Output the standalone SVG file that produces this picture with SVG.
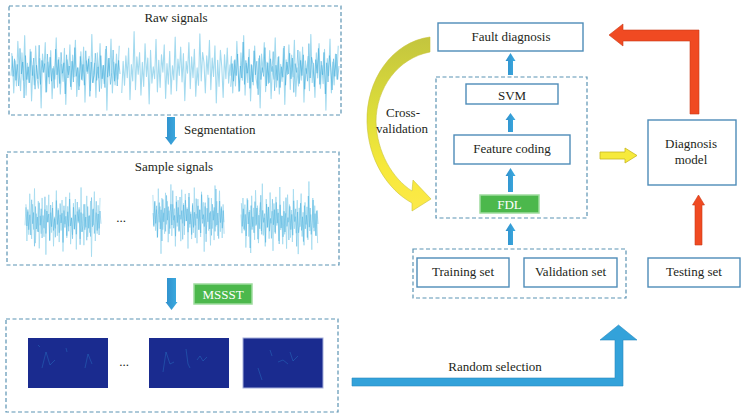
<svg xmlns="http://www.w3.org/2000/svg" xmlns:xlink="http://www.w3.org/1999/xlink" width="750" height="419" viewBox="0 0 750 419">
<style>
text{font-family:"Liberation Serif","Times New Roman",serif;font-size:13px;fill:#231f20}
.dash{fill:none;stroke:#5b93b3;stroke-width:1.2;stroke-dasharray:4 2.5}
.box{fill:#fff;stroke:#4e8cb8;stroke-width:1.4}
.green{fill:#4cb84c;stroke:#9edc9e;stroke-width:1.5}
.gt{fill:#fff;font-size:13px}
.lt{fill:none;stroke:#a3daef;stroke-width:0.8;stroke-linejoin:round}
.dk{fill:none;stroke:#2ba3d9;stroke-width:0.6;stroke-linejoin:round;opacity:0.75}
.barrow{fill:url(#bg)}
.img{fill:#1a2b8f}
.speck{fill:none;stroke:#2f8fd8;stroke-width:0.6;opacity:0.55}
</style>
<defs>
<linearGradient id="bg" x1="0" y1="0" x2="1" y2="0"><stop offset="0" stop-color="#2f8fcc"/><stop offset="1" stop-color="#3cabe0"/></linearGradient>
<linearGradient id="yg" x1="0" y1="0" x2="0" y2="1"><stop offset="0" stop-color="#c3c53e"/><stop offset="0.45" stop-color="#dede3a"/><stop offset="0.75" stop-color="#f7e93a"/><stop offset="1" stop-color="#fce94a"/></linearGradient>
<path id="sig" d="M0,5 1,-12 2,20 3,-8 4,14 5,-25 6,3 7,18 8,-15 9,9 10,-30 11,22 12,-6 13,11 14,-18 15,27 16,-4 17,13 18,-21 19,7 20,16 21,-10 22,33 23,-14 24,2 25,-24 26,19 27,-7 28,12 29,-17 30,25 31,-3 32,8 33,-28 34,15 35,-11 36,21 37,-5 38,10 39,-19 40,30 41,-9 42,4 43,-22 44,17 45,-13 46,6 47,-26 48,23 49,-2 50,14 51,-16 52,9 53,-20 54,28 55,-8 56,3 57,-12 58,18 59,-31 60,11 61,-6 62,24 63,-15 64,7 65,-23 66,16 67,-4 68,12 69,-18 70,35 71,-10 72,5 73,-27 74,20 75,-7 76,13 77,-14 78,8 79,-21"/>
</defs>
<rect width="750" height="419" fill="#fff"/>

<g id="raw-signals">
<rect class="dash" x="9" y="6" width="332" height="109"/>
<text x="176" y="22" text-anchor="middle">Raw signals</text>
<g class="lt">
<use xlink:href="#sig" transform="translate(11,70) scale(1.37,1.15)"/>
<use xlink:href="#sig" transform="translate(230,70) scale(-1.37,-1.1)"/>
<use xlink:href="#sig" transform="translate(230,70) scale(1.37,1.15)"/>
</g>
<g class="dk">
<use xlink:href="#sig" transform="translate(120,70) scale(-1.37,0.8)"/>
<use xlink:href="#sig" transform="translate(339,70) scale(-1.37,-0.8)"/>
</g>
</g>

<g id="sample-signals">
<rect class="dash" x="7" y="152" width="332" height="113"/>
<text x="174" y="171" text-anchor="middle">Sample signals</text>
<g class="lt">
<use xlink:href="#sig" transform="translate(25,220) scale(0.95,1.05)"/>
<use xlink:href="#sig" transform="translate(224,217) scale(-0.9,1.05)"/>
<use xlink:href="#sig" transform="translate(241,220) scale(0.97,-1.1)"/>
</g>
<g class="dk">
<use xlink:href="#sig" transform="translate(101,220) scale(-0.95,0.75)"/>
<use xlink:href="#sig" transform="translate(153,217) scale(0.9,-0.8)"/>
<use xlink:href="#sig" transform="translate(318,220) scale(-0.97,0.8)"/>
</g>
<text x="121" y="222" text-anchor="middle">...</text>
</g>

<g id="mssst">
<rect class="green" x="194" y="284" width="58" height="20"/>
<text class="gt" x="223" y="298.5" text-anchor="middle">MSSST</text>
</g>

<g id="tf-images">
<rect class="dash" x="6" y="319" width="332" height="93"/>
<rect class="img" x="28" y="338" width="80" height="50"/>
<rect class="img" x="149" y="338" width="80" height="50"/>
<rect class="img" x="243" y="338" width="80" height="50" stroke="#a6b0dc" stroke-width="1"/>
<path class="speck" d="M42,368 L46,352 L50,365 L55,360 M85,368 L88,354 L92,364 M66,348 L67,352 M38,345 L40,347"/>
<path class="speck" d="M163,372 L166,352 L170,364 L174,362 M197,360 L200,356 L203,361 L207,357 M186,349 L188,364 L190,368"/>
<path class="speck" d="M270,350 L272,356 M290,352 L293,361 L298,356 M278,362 L283,360 L288,364 M258,368 L262,380"/>
<text x="124" y="366" text-anchor="middle">...</text>
</g>

<g id="fault-diagnosis">
<rect class="box" x="438" y="23" width="145" height="28"/>
<text x="511" y="40.5" text-anchor="middle">Fault diagnosis</text>
</g>

<g id="model-group">
<rect class="dash" x="436" y="77" width="151" height="141"/>
</g>

<g id="svm">
<rect class="box" x="466" y="84" width="92" height="20"/>
<text x="512" y="100" text-anchor="middle">SVM</text>
</g>

<g id="feature-coding">
<rect class="box" x="454" y="135" width="116" height="29"/>
<text x="512" y="153" text-anchor="middle">Feature coding</text>
</g>

<g id="fdl">
<rect class="green" x="480" y="195" width="59" height="18"/>
<text class="gt" x="509.5" y="208.5" text-anchor="middle">FDL</text>
</g>

<g id="data-sets">
<rect class="dash" x="413" y="249" width="213" height="49"/>
</g>

<g id="training-set">
<rect class="box" x="417" y="258" width="92" height="29"/>
<text x="463" y="276" text-anchor="middle">Training set</text>
</g>

<g id="validation-set">
<rect class="box" x="524" y="258" width="93" height="29"/>
<text x="570.5" y="276" text-anchor="middle">Validation set</text>
</g>

<g id="testing-set">
<rect class="box" x="648" y="258" width="92" height="29"/>
<text x="694" y="276" text-anchor="middle">Testing set</text>
</g>

<g id="diagnosis-model">
<rect class="box" x="648" y="120" width="88" height="65"/>
<text x="691" y="148" text-anchor="middle">Diagnosis</text>
<text x="691" y="164" text-anchor="middle">model</text>
</g>

<g id="connectors">
<path class="barrow" d="M167,117 H175 V137 H177 L171,145 L165,137 H167 Z"/>
<text x="184" y="134">Segmentation</text>
<path class="barrow" d="M167,278 H176 V302 H177.5 L171.5,310 L165.5,302 H167 Z"/>
<path class="barrow" d="M508,75 V61 H505.5 L510.5,53 L515.5,61 H513 V75 Z"/>
<path class="barrow" d="M508,132 V120 H505.5 L510.5,113 L515.5,120 H513 V132 Z"/>
<path class="barrow" d="M508,192 V176 H505.5 L510.5,168 L515.5,176 H513 V192 Z"/>
<path class="barrow" d="M508,245 V231 H505.5 L510.5,223 L515.5,231 H513 V245 Z"/>
<path fill="#33a2da" stroke="#2a8cc0" stroke-width="0.6" d="M352,378 H615 V340 H600 L618.5,325 L637,340 H623 V386 H352 Z"/>
<text x="495" y="371" text-anchor="middle">Random selection</text>
<path fill="#f6ea3c" stroke="#c8b820" stroke-width="0.8" d="M600,152 H625 V148 L637,155.5 L625,163 V159 H600 Z"/>
<path fill="#f04a22" stroke="#c93a18" stroke-width="0.6" d="M695,245 V205 H692.5 L698.5,195 L704.5,205 H702 V245 Z"/>
<path fill="#f04a22" stroke="#c93a18" stroke-width="0.6" d="M690,114 V41 H623 V46 L609,35 L623,24 V30 H699 V114 Z"/>
<path fill="url(#yg)" stroke="#c9c23a" stroke-width="0.6" d="M430,37 C392,42 366,80 367,122 C368,160 388,190 412,203 L412,211 L431,199 L413,180 L412,191 C392,178 377,152 376,122 C376,88 398,58 430,52 Z"/>
<text x="403" y="117" text-anchor="middle">Cross-</text>
<text x="402" y="133" text-anchor="middle">validation</text>
</g>
</svg>
